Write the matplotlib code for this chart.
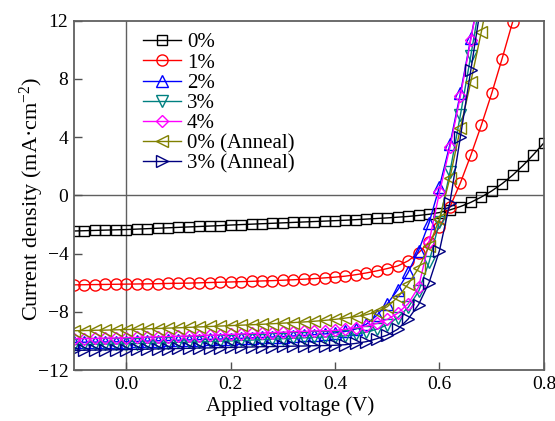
import matplotlib
matplotlib.use("Agg")
import matplotlib.pyplot as plt

plt.rcParams['font.family'] = ['Liberation Serif', 'DejaVu Serif']
plt.rcParams['mathtext.fontset'] = 'stix'
plt.rcParams['mathtext.default'] = 'regular'

# applied voltage (V), 0.02 V steps
voltage = [-0.10, -0.08, -0.06, -0.04, -0.02, 0.00, 0.02, 0.04, 0.06, 0.08,
           0.10, 0.12, 0.14, 0.16, 0.18, 0.20, 0.22, 0.24, 0.26, 0.28,
           0.30, 0.32, 0.34, 0.36, 0.38, 0.40, 0.42, 0.44, 0.46, 0.48,
           0.50, 0.52, 0.54, 0.56, 0.58, 0.60, 0.62, 0.64, 0.66, 0.68,
           0.70, 0.72, 0.74, 0.76, 0.78, 0.80]

# current density (mA cm^-2)
j_0 = [-2.45, -2.43, -2.41, -2.39, -2.37, -2.35, -2.32, -2.29, -2.26, -2.23,
       -2.20, -2.17, -2.14, -2.11, -2.08, -2.04, -2.01, -1.98, -1.95, -1.92,
       -1.89, -1.86, -1.83, -1.80, -1.77, -1.74, -1.71, -1.67, -1.63, -1.59,
       -1.55, -1.50, -1.45, -1.38, -1.30, -1.18, -1.00, -0.77, -0.48, -0.12,
       0.30, 0.80, 1.38, 2.05, 2.80, 3.60]
j_1 = [-6.15, -6.14, -6.13, -6.12, -6.11, -6.10, -6.09, -6.08, -6.07, -6.05,
       -6.04, -6.03, -6.01, -5.99, -5.97, -5.95, -5.93, -5.91, -5.88, -5.86,
       -5.83, -5.80, -5.76, -5.72, -5.67, -5.62, -5.55, -5.45, -5.33, -5.19,
       -5.03, -4.85, -4.50, -3.95, -3.20, -2.20, -0.80, 0.85, 2.75, 4.80,
       7.00, 9.40, 11.90, 14.50]
j_2 = [-10.10, -10.09, -10.08, -10.07, -10.06, -10.05, -10.03, -10.01, -9.99, -9.97,
       -9.95, -9.93, -9.91, -9.89, -9.87, -9.85, -9.82, -9.79, -9.76, -9.73,
       -9.70, -9.66, -9.62, -9.57, -9.52, -9.45, -9.35, -9.18, -8.85, -8.25,
       -7.45, -6.50, -5.30, -3.80, -1.90, 0.60, 3.50, 7.00, 10.80, 14.50]
j_3 = [-10.25, -10.24, -10.23, -10.22, -10.21, -10.20, -10.18, -10.16, -10.14, -10.12,
       -10.10, -10.08, -10.06, -10.04, -10.02, -10.00, -9.97, -9.94, -9.91, -9.88,
       -9.85, -9.82, -9.79, -9.76, -9.73, -9.70, -9.65, -9.55, -9.40, -9.20,
       -8.90, -8.40, -7.70, -6.60, -4.60, -1.80, 1.60, 5.50, 9.60, 13.80]
j_4 = [-9.85, -9.84, -9.83, -9.81, -9.80, -9.78, -9.76, -9.74, -9.72, -9.70,
       -9.68, -9.66, -9.63, -9.61, -9.58, -9.55, -9.52, -9.49, -9.46, -9.43,
       -9.40, -9.37, -9.34, -9.31, -9.30, -9.28, -9.20, -9.10, -8.98, -8.80,
       -8.52, -8.10, -7.45, -6.30, -3.20, 0.20, 3.30, 6.80, 10.70, 14.60]
j_0a = [-9.30, -9.29, -9.27, -9.26, -9.24, -9.22, -9.20, -9.17, -9.15, -9.12,
        -9.10, -9.07, -9.04, -9.01, -8.98, -8.95, -8.92, -8.89, -8.86, -8.82,
        -8.78, -8.74, -8.70, -8.65, -8.59, -8.52, -8.43, -8.33, -8.20, -8.00,
        -7.65, -7.00, -6.10, -5.00, -3.50, -1.60, 1.20, 4.60, 7.80, 11.20,
        14.80]
j_3a = [-10.65, -10.64, -10.63, -10.62, -10.61, -10.60, -10.58, -10.57, -10.55, -10.54,
        -10.52, -10.51, -10.49, -10.48, -10.46, -10.45, -10.43, -10.42, -10.40, -10.39,
        -10.38, -10.36, -10.35, -10.33, -10.32, -10.30, -10.26, -10.17, -10.05, -9.85,
        -9.60, -9.20, -8.50, -7.50, -6.00, -3.80, -0.50, 4.00, 8.60, 13.20]

labels = ['0%', '1%', '2%', '3%', '4%', '0% (Anneal)', '3% (Anneal)']
series = [j_0, j_1, j_2, j_3, j_4, j_0a, j_3a]
colors = ['black', 'red', 'blue', '#008080', 'magenta', '#808000', '#000080']
markers = ['s', 'o', '^', 'v', 'D', '<', '>']
msizes = [7.5, 8, 8, 8, 6.5, 8, 8]

fig = plt.figure(figsize=(5.55, 4.21), dpi=100)
ax = fig.add_axes([0.1333, 0.1211, 0.8467, 0.8298])

ax.axhline(0, color='#606060', lw=1, zorder=1)
ax.axvline(0, color='#606060', lw=1, zorder=1)

for j, lab, c, m, ms in zip(series, labels, colors, markers, msizes):
    ax.plot(voltage[:len(j)], j, color=c, marker=m, ms=ms, mfc='none',
            mec=c, mew=1.0, lw=1.0, label=lab, zorder=2)

ax.set_xlim(-0.1, 0.8)
ax.set_ylim(-12, 12)
ax.set_xticks([0.0, 0.2, 0.4, 0.6, 0.8])
ax.set_yticks([-12, -8, -4, 0, 4, 8, 12])
ax.set_xticklabels(['0.0', '0.2', '0.4', '0.6', '0.8'])
ax.tick_params(direction='in', length=6, width=1, labelsize=14,
               color='#505050', top=False, right=False, pad=4)
for s in ax.spines.values():
    s.set_color('#606060')
    s.set_linewidth(1.3)

ax.set_xlabel('Applied voltage (V)', fontsize=15)
ax.xaxis.set_label_coords(0.46, -0.075, transform=ax.transAxes)
ax.xaxis.label.set_va('top')
ax.set_ylabel('Current density (mA·cm$^{-2}$)', fontsize=16)
ax.yaxis.set_label_coords(-0.06, 0.49, transform=ax.transAxes)

ax.legend(loc='upper left', bbox_to_anchor=(0.147, 0.965), frameon=False,
          fontsize=15, handlelength=1.8, handletextpad=0.3,
          labelspacing=0.03, borderpad=0, borderaxespad=0)

fig.savefig('out.png', dpi=100)
